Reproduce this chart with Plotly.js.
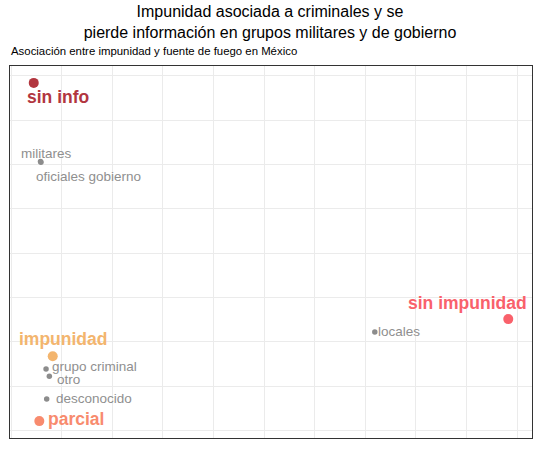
<!DOCTYPE html>
<html>
<head>
<meta charset="utf-8">
<script src="https://cdn.plot.ly/plotly-3.0.1.min.js"></script>
<style>html,body{margin:0;padding:0;background:#fff;}#chart{width:540px;height:450px;}</style>
</head>
<body>
<div id="chart"></div>
<script>
// Categories (points) and their estimated coordinates (arbitrary units)
const labels = ["sin info", "militares", "oficiales gobierno", "impunidad", "grupo criminal", "otro", "desconocido", "parcial", "sin impunidad", "locales"];
const xValues = [-0.552, -0.418, -0.410, -0.177, -0.309, -0.244, -0.296, -0.442, 8.823, 6.186];
const yValues = [7.836, 6.062, 6.050, 1.674, 1.390, 1.224, 0.714, 0.214, 2.513, 2.220];
const groups = ["impunidad", "fuente", "fuente", "impunidad", "fuente", "fuente", "fuente", "impunidad", "impunidad", "fuente"];

// styles
const colorMap = {
  "sin info": "#B2363F",
  "impunidad": "#F3B56E",
  "parcial": "#F88B6E",
  "sin impunidad": "#F9616B"
};
const grayPoint = "#8C8C8C";
const grayText = "#8F8F8F";
// label offsets in pixels [xshift, yshift]
const labelOffsets = {
  "sin info": [-7.5, -14.5],
  "militares": [-21, 7.7],
  "oficiales gobierno": [-5.5, -14.5],
  "impunidad": [-34.4, 17.2],
  "grupo criminal": [5.2, 2.3],
  "otro": [6.8, -2.8],
  "desconocido": [7.8, 0.8],
  "parcial": [7.5, 2],
  "sin impunidad": [-101.6, 16],
  "locales": [2.5, 0.5]
};

const FONT = "Liberation Sans, Arial, Helvetica, sans-serif";

const traces = [];
// gray (fuente) points
const gi = labels.map((l, i) => i).filter(i => groups[i] === "fuente");
traces.push({
  type: "scatter", mode: "markers",
  x: gi.map(i => xValues[i]), y: gi.map(i => yValues[i]),
  marker: {color: grayPoint, size: 5.5},
  hoverinfo: "skip", showlegend: false
});
// colored (impunidad) points
const ci = labels.map((l, i) => i).filter(i => groups[i] === "impunidad");
traces.push({
  type: "scatter", mode: "markers",
  x: ci.map(i => xValues[i]), y: ci.map(i => yValues[i]),
  marker: {color: ci.map(i => colorMap[labels[i]]), size: 10},
  hoverinfo: "skip", showlegend: false
});

const annotations = labels.map((l, i) => {
  const isImp = groups[i] === "impunidad";
  return {
    x: xValues[i], y: yValues[i], xref: "x", yref: "y",
    text: isImp ? "<b>" + l + "</b>" : l,
    showarrow: false, xanchor: "left", yanchor: "middle",
    xshift: labelOffsets[l][0], yshift: labelOffsets[l][1],
    borderpad: 0,
    font: {family: FONT, size: isImp ? 17.5 : 13.5, color: isImp ? colorMap[l] : grayText}
  };
});
annotations.push({
  text: "Asociación entre impunidad y fuente de fuego en México",
  xref: "paper", yref: "paper", x: 0, y: 1.0403,
  xanchor: "left", yanchor: "middle", showarrow: false, borderpad: 0,
  font: {family: FONT, size: 11.4, color: "#000000"}
});

const xRange = [-1.021, 9.292];
const yRange = [-0.167, 8.217];

const axisCommon = {
  showticklabels: false, ticks: "", zeroline: false,
  showgrid: true, gridcolor: "#EBEBEB", gridwidth: 1,
  showline: true, linecolor: "#333333", linewidth: 1.3, mirror: true,
  tick0: 0, dtick: 1
};

const layout = {
  width: 540, height: 450,
  margin: {l: 10, r: 8, t: 66, b: 12},
  paper_bgcolor: "#FFFFFF", plot_bgcolor: "#FFFFFF",
  font: {family: FONT},
  title: {
    text: "Impunidad asociada a criminales y se<br>pierde información en grupos militares y de gobierno",
    x: 0.5, xanchor: "center", xref: "container",
    y: 1 - 17/450, yanchor: "top", yref: "container",
    font: {family: FONT, size: 16, color: "#000000"}
  },
  xaxis: Object.assign({range: xRange}, axisCommon),
  yaxis: Object.assign({range: yRange}, axisCommon),
  annotations: annotations,
  showlegend: false
};

Plotly.newPlot("chart", traces, layout, {displayModeBar: false, staticPlot: true});
</script>
</body>
</html>
